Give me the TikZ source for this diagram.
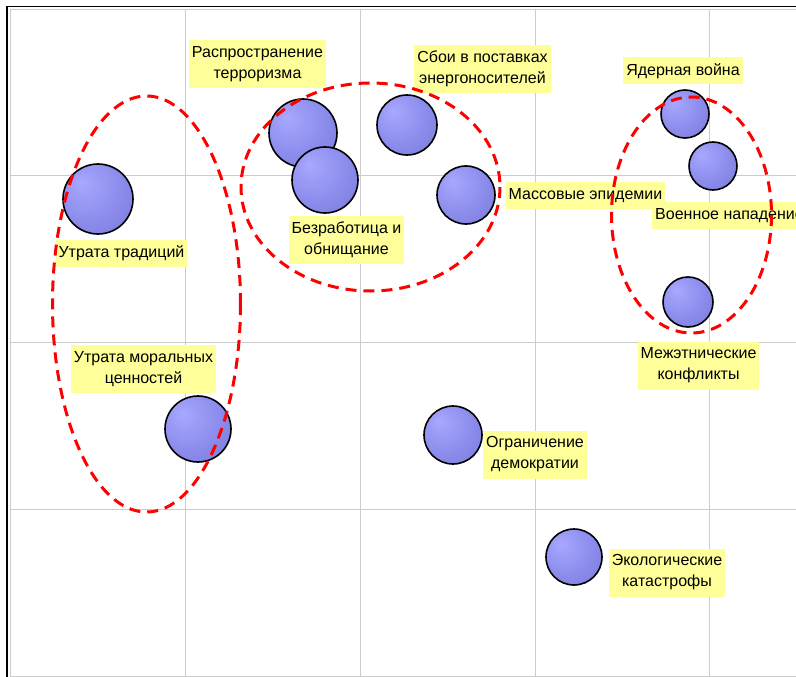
\documentclass[tikz,border=0pt]{standalone}
\usepackage{fontspec}
\setmainfont{Liberation Sans}
\definecolor{labc}{RGB}{255,255,153}
\definecolor{bA}{RGB}{168,168,255}
\definecolor{bB}{RGB}{142,142,238}
\definecolor{bC}{RGB}{102,102,196}
\definecolor{gridc}{RGB}{204,204,204}
\pgfdeclareradialshading{bubsh}{\pgfpoint{-12bp}{12bp}}{color(0bp)=(bA); color(22bp)=(bB); color(62bp)=(bC); color(72bp)=(bC)}
\begin{document}
\begin{tikzpicture}[x=1pt,y=-1pt,
  bub/.style={circle, draw=black, line width=1.6pt, shading=bubsh, minimum size=#1, inner sep=0pt},
  lab/.style={fill=labc, inner xsep=3pt, inner ysep=0pt, align=center, font=\fontsize{16}{21}\selectfont},
  one/.style={minimum height=27pt},
  two/.style={minimum height=48pt},
  ring/.style={draw=red, line width=3pt, dash pattern=on 11pt off 7pt},
  gridline/.style={draw=gridc, line width=0.9pt}]
\useasboundingbox (0,0) rectangle (796,677);
\clip (0,0) rectangle (796,677);
\fill[white] (0,0) rectangle (796,677);
% grid
\foreach \x in {185,360,535,709} \draw[gridline] (\x,9) -- (\x,676);
\foreach \y in {175,342,509} \draw[gridline] (10,\y) -- (796,\y);
\draw[gridline] (10,676) -- (10,9) -- (796,9);
\draw[gridline] (10,676) -- (796,676);
% frame
\draw[black, line width=1.6pt] (7,677) -- (7,6.5) -- (796,6.5);
% bubbles
\node[bub=70pt] (trad) at (98,199) {};
\node[bub=68pt] (terr) at (303,133) {};
\node[bub=66pt] (bezr) at (325,180) {};
\node[bub=60pt] (sboi) at (407,125) {};
\node[bub=58pt] (epid) at (466,195) {};
\node[bub=48pt] (yad) at (685,114) {};
\node[bub=48pt] (voen) at (713,166) {};
\node[bub=50pt] (mezh) at (688,302) {};
\node[bub=66pt] (mor) at (198,429) {};
\node[bub=58pt] (dem) at (453,435) {};
\node[bub=56pt] (eco) at (574,557) {};
% labels
\node[lab,two] (lterr) at (257.5,64.5) {Распространение\\терроризма};
\node[lab,one] (ltrad) at (121.5,253.5) {Утрата традиций};
\node[lab,two] (lbezr) at (346.5,240) {Безработица и\\обнищание};
\node[lab,two] (lsboi) at (482.5,69) {Сбои в поставках\\энергоносителей};
\node[lab,one] (lepid) at (585.5,195.5) {Массовые эпидемии};
\node[lab,one] (lyad) at (683,71) {Ядерная война};
\node[lab,one,anchor=west] (lvoen) at (652,215.5) {Военное нападение};
\node[lab,two] (lmezh) at (698.5,365.5) {Межэтнические\\конфликты};
\node[lab,two] (lmor) at (143.5,369) {Утрата моральных\\ценностей};
\node[lab,two] (ldem) at (535,454.5) {Ограничение\\демократии};
\node[lab,two] (leco) at (667,572.5) {Экологические\\катастрофы};
% groups
\draw[ring] (146.5,304) ellipse [x radius=94, y radius=208];
\draw[ring] (370.5,187) ellipse [x radius=129.5, y radius=104];
\draw[ring] (691.5,215) ellipse [x radius=80, y radius=118];
\end{tikzpicture}
\end{document}
